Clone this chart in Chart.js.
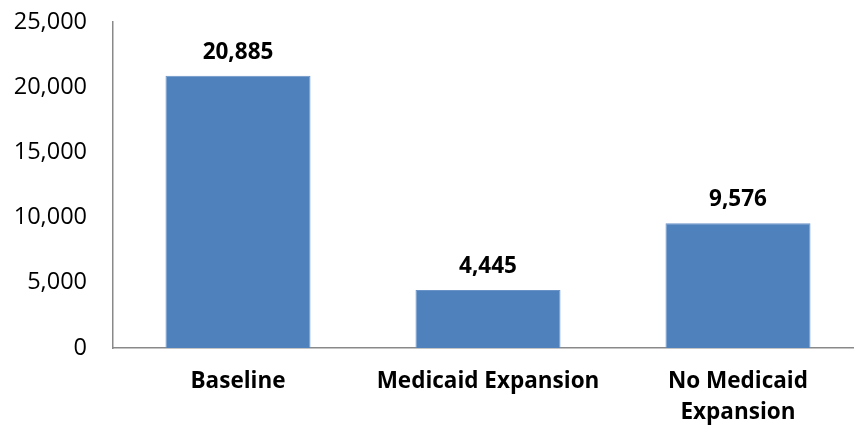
<!DOCTYPE html>
<html>
<head>
<meta charset="utf-8">
<script src="https://cdn.jsdelivr.net/npm/chart.js@4"></script>
<style>
  html, body { margin: 0; padding: 0; background: #fff; overflow: hidden; }
  #wrap { width: 854px; height: 427px; overflow: hidden; }
</style>
</head>
<body>
<div id="wrap"><canvas id="barChart" width="863" height="427"></canvas></div>
<script>
const categories = ['Baseline', 'Medicaid Expansion', ['No Medicaid', 'Expansion']];
const values = [20885, 4445, 9576];
const yTicks = [0, 5000, 10000, 15000, 20000, 25000];

const fontFamily = "'Open Sans', sans-serif";

const valueLabels = {
    id: 'valueLabels',
    afterDatasetsDraw(chart) {
        const ctx = chart.ctx;
        const meta = chart.getDatasetMeta(0);
        ctx.save();
        ctx.font = "bold 22.5px " + fontFamily;
        ctx.fillStyle = '#000';
        ctx.textAlign = 'center';
        ctx.textBaseline = 'alphabetic';
        meta.data.forEach(function(bar, i){
            ctx.fillText(values[i].toLocaleString('en-US'), bar.x, bar.y - 17);
        });
        ctx.restore();
    }
};

new Chart(document.getElementById('barChart'), {
    type: 'bar',
    data: {
        labels: categories,
        datasets: [{
            data: values,
            backgroundColor: '#4F81BD',
            borderColor: '#6A94C8',
            borderWidth: 1,
            barPercentage: 0.58,
            categoryPercentage: 1
        }]
    },
    options: {
        responsive: false,
        animation: false,
        layout: { padding: { top: 22, right: 0, left: 0, bottom: 0 } },
        plugins: {
            legend: { display: false },
            tooltip: { enabled: false }
        },
        scales: {
            x: {
                grid: { display: false, drawTicks: false },
                border: { color: '#898989', width: 1.5 },
                ticks: {
                    color: '#000',
                    padding: 18,
                    maxRotation: 0,
                    font: { family: fontFamily, size: 22.5, weight: 'bold', lineHeight: 1.38 }
                },
                afterFit(scale) {
                    scale.height = 79;
                    scale.paddingLeft = 0;
                    scale.paddingRight = 0;
                }
            },
            y: {
                min: 0,
                max: 25000,
                grid: { display: false, drawTicks: false },
                border: { color: '#898989', width: 1.5 },
                afterBuildTicks(scale) { scale.ticks = yTicks.map(v => ({ value: v })); },
                ticks: {
                    color: '#000',
                    padding: 26,
                    font: { family: fontFamily, size: 23.5 },
                    callback: v => v.toLocaleString('en-US')
                },
                afterFit(scale) {
                    scale.width = 113;
                    scale.paddingTop = 0;
                    scale.paddingBottom = 0;
                }
            }
        }
    },
    plugins: [valueLabels]
});
</script>
</body>
</html>
